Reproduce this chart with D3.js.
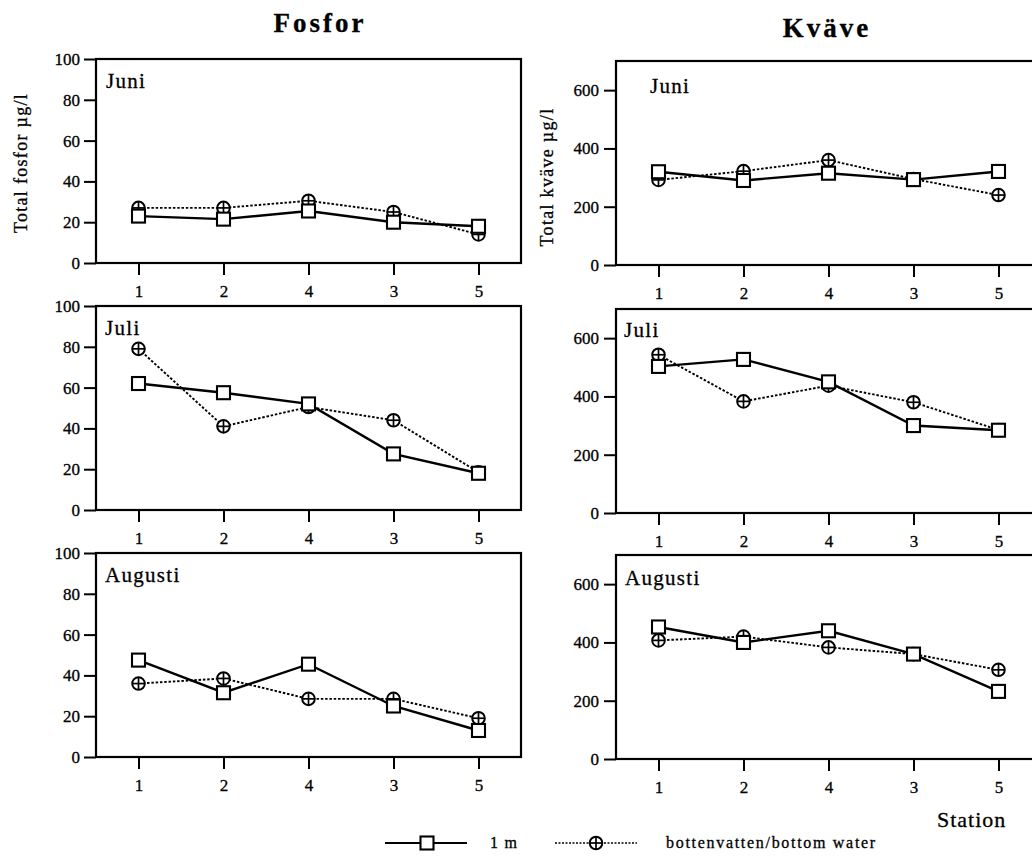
<!DOCTYPE html>
<html>
<head>
<meta charset="utf-8">
<script src="https://cdn.jsdelivr.net/npm/d3@7"></script>
<style>
  html, body { margin: 0; padding: 0; background: #fff; }
  svg { display: block; }
  text { font-family: "Liberation Serif", "Times New Roman", serif; fill: #000; stroke: #000; stroke-width: 0.3px; }
</style>
</head>
<body>
<svg id="chart" width="1032" height="856"></svg>
<script>
// ---------- data ----------
const stations = ["1", "2", "4", "3", "5"];
const months = ["Juni", "Juli", "Augusti"];
const seriesNames = ["1 m", "bottenvatten/bottom  water"];
const fosforTicks = [0, 20, 40, 60, 80, 100];
const kvaveTicks = [0, 200, 400, 600];

// Fosfor (µg/l)
const fosforJuni1m      = [23, 21.5, 25.5, 20, 18];
const fosforJuniBottom  = [27, 27, 30.5, 25, 14];
const fosforJuli1m      = [62, 57.5, 52, 27.5, 18];
const fosforJuliBottom  = [79, 41, 50.5, 44, 18.5];
const fosforAug1m       = [47.5, 31.5, 45.5, 25, 13];
const fosforAugBottom   = [36, 38.5, 28.5, 28.5, 19];

// Kväve (µg/l)
const kvaveJuni1m       = [320, 290, 315, 293, 321];
const kvaveJuniBottom   = [292, 322, 360, 295, 240];
const kvaveJuli1m       = [503, 527, 450, 300, 284];
const kvaveJuliBottom   = [543, 383, 437, 380, 285];
const kvaveAug1m        = [453, 400, 440, 360, 232];
const kvaveAugBottom    = [407, 420, 383, 360, 306];

// ---------- layout ----------
const svg = d3.select("#chart");
const panelH = 204;
const columns = [
  { name: "Fosfor", x0: 96, x1: 521, tops: [59, 306, 553], domain: [0, 100], ticks: fosforTicks,
    series: [[fosforJuni1m, fosforJuniBottom], [fosforJuli1m, fosforJuliBottom], [fosforAug1m, fosforAugBottom]],
    labelPos: [[106, 29], [105, 29], [105, 29]], tickPad: 4 },
  { name: "Kväve", x0: 616, x1: 1041, tops: [61, 309, 555], domain: [0, 700], ticks: kvaveTicks,
    series: [[kvaveJuni1m, kvaveJuniBottom], [kvaveJuli1m, kvaveJuliBottom], [kvaveAug1m, kvaveAugBottom]],
    labelPos: [[650, 32], [624, 28], [625, 30]], tickPad: 5 }
];

function drawSquare(g, cx, cy) {
  g.append("rect").attr("x", cx - 6.5).attr("y", cy - 6.5).attr("width", 13).attr("height", 13)
    .attr("fill", "#fff").attr("stroke", "#000").attr("stroke-width", 2.1);
}
function drawCircle(g, cx, cy) {
  g.append("circle").attr("cx", cx).attr("cy", cy).attr("r", 6.3)
    .attr("fill", "#fff").attr("stroke", "#000").attr("stroke-width", 2);
  g.append("line").attr("x1", cx - 6.3).attr("x2", cx + 6.3).attr("y1", cy).attr("y2", cy)
    .attr("stroke", "#000").attr("stroke-width", 1.7);
  g.append("line").attr("x1", cx).attr("x2", cx).attr("y1", cy - 6.3).attr("y2", cy + 6.3)
    .attr("stroke", "#000").attr("stroke-width", 1.7);
}

columns.forEach(col => {
  const x = d3.scalePoint().domain(stations).range([col.x0, col.x1]).padding(0.5);
  col.tops.forEach((top, i) => {
    const y = d3.scaleLinear().domain(col.domain).range([top + panelH, top]);
    const g = svg.append("g");

    // box
    g.append("rect").attr("x", col.x0).attr("y", top).attr("width", col.x1 - col.x0).attr("height", panelH)
      .attr("fill", "none").attr("stroke", "#000").attr("stroke-width", 2.2);

    // y axis
    const ya = g.append("g").attr("transform", `translate(${col.x0},0)`)
      .call(d3.axisLeft(y).tickValues(col.ticks).tickSize(12).tickPadding(col.tickPad).tickFormat(d3.format("d")));
    ya.select(".domain").remove();
    ya.selectAll("line").attr("stroke", "#000").attr("stroke-width", 2);
    ya.selectAll("text").style("font-size", "17px")
      .style("font-family", "'Liberation Serif', serif").attr("fill", "#000");

    // x axis
    const xa = g.append("g").attr("transform", `translate(0,${top + panelH})`)
      .call(d3.axisBottom(x).tickSize(12).tickPadding(10));
    xa.select(".domain").remove();
    xa.selectAll("line").attr("stroke", "#000").attr("stroke-width", 2);
    xa.selectAll("text").style("font-size", "17px")
      .style("font-family", "'Liberation Serif', serif").attr("fill", "#000");

    // month label
    g.append("text").attr("x", col.labelPos[i][0]).attr("y", top + col.labelPos[i][1])
      .style("font-size", "21px").style("letter-spacing", "1.3px").text(months[i]);

    const [s1m, sBot] = col.series[i];
    const line = d3.line().x((d, j) => x(stations[j])).y(d => y(d));

    g.append("path").datum(sBot).attr("d", line).attr("fill", "none")
      .attr("stroke", "#000").attr("stroke-width", 1.9).attr("stroke-dasharray", "2.5,1.8");
    g.append("path").datum(s1m).attr("d", line).attr("fill", "none")
      .attr("stroke", "#000").attr("stroke-width", 2.4);

    sBot.forEach((v, j) => drawCircle(g, x(stations[j]), y(v)));
    s1m.forEach((v, j) => drawSquare(g, x(stations[j]), y(v)));
  });
});

// titles
svg.append("text").attr("x", 320).attr("y", 32).attr("text-anchor", "middle")
  .style("font-size", "27px").style("font-weight", "bold").style("letter-spacing", "3px").text(columns[0].name);
svg.append("text").attr("x", 827).attr("y", 37).attr("text-anchor", "middle")
  .style("font-size", "27px").style("font-weight", "bold").style("letter-spacing", "3px").text(columns[1].name);

// y labels
svg.append("text").attr("transform", "translate(27,163) rotate(-90)").attr("text-anchor", "middle")
  .style("font-size", "18px").style("letter-spacing", "1.3px").text("Total fosfor µg/l");
svg.append("text").attr("transform", "translate(553,177) rotate(-90)").attr("text-anchor", "middle")
  .style("font-size", "18px").style("letter-spacing", "1.3px").text("Total kväve µg/l");

// x label
svg.append("text").attr("x", 937).attr("y", 827).style("font-size", "22px")
  .style("letter-spacing", "1px").text("Station");

// legend
const lg = svg.append("g");
lg.append("line").attr("x1", 385).attr("x2", 467).attr("y1", 843).attr("y2", 843)
  .attr("stroke", "#000").attr("stroke-width", 2);
drawSquare(lg, 427, 843);
lg.append("text").attr("x", 490).attr("y", 848).style("font-size", "16px").style("letter-spacing", "1.3px").text(seriesNames[0]);
lg.append("line").attr("x1", 555).attr("x2", 637).attr("y1", 843).attr("y2", 843)
  .attr("stroke", "#000").attr("stroke-width", 1.6).attr("stroke-dasharray", "2,1.5");
drawCircle(lg, 596, 843);
lg.append("text").attr("x", 666).attr("y", 848).style("font-size", "16px").style("letter-spacing", "1.7px").text(seriesNames[1]);
</script>
</body>
</html>
